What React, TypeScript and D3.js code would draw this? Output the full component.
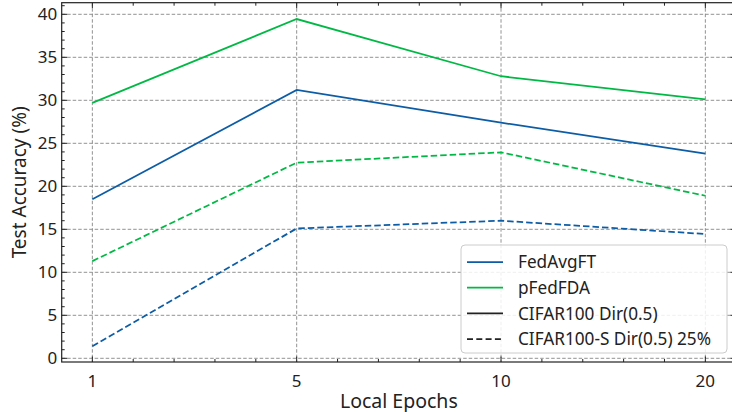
import * as d3 from 'd3';
import React, { useRef, useEffect } from 'react';

// local epochs (categorical, evenly spaced)
const epochs = ['1', '5', '10', '20'];
const yTicks = [0, 5, 10, 15, 20, 25, 30, 35, 40];

// test accuracy (%)
const fedAvgCifar = [18.5, 31.2, 27.4, 23.8];
const pFedCifar = [29.7, 39.45, 32.8, 30.1];
const fedAvgCifarS = [1.4, 15.1, 16.0, 14.45];
const pFedCifarS = [11.3, 22.75, 23.95, 18.9];

const BLUE = '#0C5DA5';
const GREEN = '#00B945';

const series = [
  { name: 'FedAvgFT', data: fedAvgCifar, color: BLUE, dashed: false },
  { name: 'pFedFDA', data: pFedCifar, color: GREEN, dashed: false },
  { name: 'FedAvgFT', data: fedAvgCifarS, color: BLUE, dashed: true },
  { name: 'pFedFDA', data: pFedCifarS, color: GREEN, dashed: true },
];

const legendItems = [
  { label: 'FedAvgFT', color: BLUE, dashed: false },
  { label: 'pFedFDA', color: GREEN, dashed: false },
  { label: 'CIFAR100 Dir(0.5)', color: '#222', dashed: false },
  { label: 'CIFAR100-S Dir(0.5) 25%', color: '#222', dashed: true },
];

export default function App() {
  const ref = useRef<SVGSVGElement>(null);

  useEffect(() => {
    const width = 732;
    const height = 412;
    const left = 61.7, right = 736, top = 2.7, bottom = 362;
    const font = '"Noto Sans", "Open Sans", sans-serif';

    const svg = d3.select(ref.current).attr('width', width).attr('height', height);
    svg.selectAll('*').remove();

    const x = d3.scaleLinear().domain([-0.15, epochs.length - 1 + 0.15]).range([left, right]);
    const y = d3.scaleLinear().domain([-0.43, 41.35]).range([bottom, top]);

    // grid
    const grid = svg.append('g').attr('stroke', '#868686').attr('stroke-width', 0.9).attr('stroke-dasharray', '3.5,2');
    epochs.forEach((_, i) => {
      grid.append('line').attr('x1', x(i)).attr('x2', x(i)).attr('y1', top).attr('y2', bottom);
    });
    yTicks.forEach((t) => {
      grid.append('line').attr('x1', left).attr('x2', right).attr('y1', y(t)).attr('y2', y(t));
    });

    // lines
    const line = d3
      .line<number>()
      .x((_, i) => x(i))
      .y((d) => y(d));
    series.forEach((s) => {
      svg
        .append('path')
        .datum(s.data)
        .attr('d', line)
        .attr('fill', 'none')
        .attr('stroke', s.color)
        .attr('stroke-width', 1.75)
        .attr('stroke-dasharray', s.dashed ? '6.5,3' : null);
    });

    // frame
    svg
      .append('rect')
      .attr('x', left)
      .attr('y', top)
      .attr('width', right - left)
      .attr('height', bottom - top)
      .attr('fill', 'none')
      .attr('stroke', '#222')
      .attr('stroke-width', 1.2);

    // ticks (inward, all four sides)
    const ticks = svg.append('g').attr('stroke', '#222').attr('stroke-width', 1);
    const xMinor = d3.range(0, epochs.length - 1 + 0.01, 0.2).filter((v) => Math.abs(v - Math.round(v)) > 0.01);
    epochs.forEach((_, i) => {
      ticks.append('line').attr('x1', x(i)).attr('x2', x(i)).attr('y1', bottom).attr('y2', bottom - 5.5);
      ticks.append('line').attr('x1', x(i)).attr('x2', x(i)).attr('y1', top).attr('y2', top + 5.5);
    });
    xMinor.forEach((v) => {
      ticks.append('line').attr('x1', x(v)).attr('x2', x(v)).attr('y1', bottom).attr('y2', bottom - 3);
      ticks.append('line').attr('x1', x(v)).attr('x2', x(v)).attr('y1', top).attr('y2', top + 3);
    });
    yTicks.forEach((t) => {
      ticks.append('line').attr('x1', left).attr('x2', left + 5.5).attr('y1', y(t)).attr('y2', y(t));
      ticks.append('line').attr('x1', right).attr('x2', right - 5.5).attr('y1', y(t)).attr('y2', y(t));
    });
    d3.range(0, 42)
      .filter((v) => v % 5 !== 0)
      .forEach((v) => {
        ticks.append('line').attr('x1', left).attr('x2', left + 3).attr('y1', y(v)).attr('y2', y(v));
        ticks.append('line').attr('x1', right).attr('x2', right - 3).attr('y1', y(v)).attr('y2', y(v));
      });

    // tick labels
    const labels = svg.append('g').attr('font-family', font).attr('fill', '#222');
    yTicks.forEach((t) => {
      labels
        .append('text')
        .attr('x', left - 4.5)
        .attr('y', y(t))
        .attr('dy', '0.36em')
        .attr('text-anchor', 'end')
        .attr('font-size', 17)
        .text(t);
    });
    epochs.forEach((e, i) => {
      labels
        .append('text')
        .attr('x', x(i))
        .attr('y', 387)
        .attr('text-anchor', 'middle')
        .attr('font-size', 17)
        .text(e);
    });

    labels
      .append('text')
      .attr('x', (left + right) / 2)
      .attr('y', 407.5)
      .attr('text-anchor', 'middle')
      .attr('font-size', 19.5)
      .text('Local Epochs');
    labels
      .append('text')
      .attr('transform', `translate(26,${(top + bottom) / 2}) rotate(-90)`)
      .attr('text-anchor', 'middle')
      .attr('font-size', 19)
      .text('Test Accuracy (%)');

    // legend
    const lg = svg.append('g');
    lg.append('rect')
      .attr('x', 461)
      .attr('y', 245)
      .attr('width', 266)
      .attr('height', 108)
      .attr('rx', 4)
      .attr('fill', 'white')
      .attr('fill-opacity', 0.85)
      .attr('stroke', '#cccccc')
      .attr('stroke-width', 1);
    legendItems.forEach((it, i) => {
      const ry = 262 + i * 25.7;
      lg.append('line')
        .attr('x1', 467)
        .attr('x2', 503)
        .attr('y1', ry)
        .attr('y2', ry)
        .attr('stroke', it.color)
        .attr('stroke-width', 1.75)
        .attr('stroke-dasharray', it.dashed ? '6,3.3' : null);
      lg.append('text')
        .attr('x', 518)
        .attr('y', ry)
        .attr('dy', '0.36em')
        .attr('font-family', font)
        .attr('font-size', 17.2)
        .attr('fill', '#222')
        .text(it.label);
    });
  }, []);

  return (
    <div>
      <svg ref={ref} style={{ position: 'absolute', left: 0, top: 0 }}></svg>
    </div>
  );
}
